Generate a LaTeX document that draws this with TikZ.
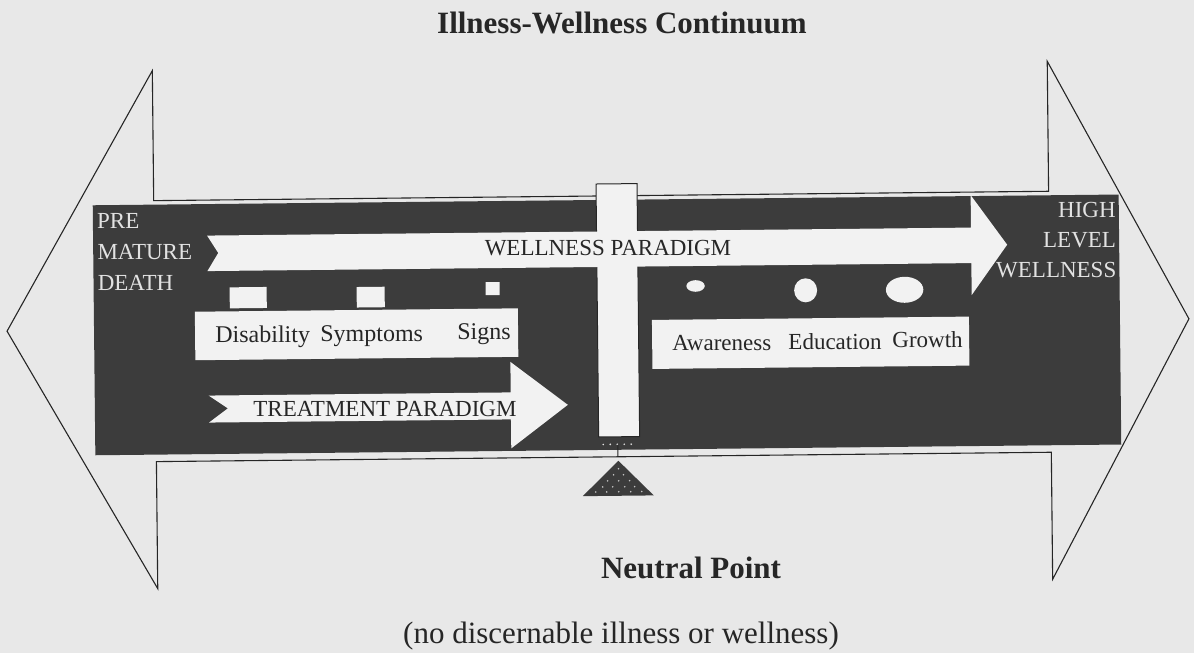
\documentclass[tikz,border=0pt]{standalone}
\usepackage{fontspec}
\setmainfont{Liberation Serif}
\definecolor{bg}{HTML}{E8E8E8}
\definecolor{paper}{HTML}{F2F2F2}
\definecolor{panel}{HTML}{3C3C3C}
\definecolor{ink}{HTML}{262626}
\definecolor{pale}{HTML}{E2E2E2}
\newcommand\myfs[1]{\fontsize{#1}{#1}\selectfont}
\begin{document}
\begin{tikzpicture}[x=1pt,y=-1pt,
  outline/.style={draw=ink, line width=1.1pt, line join=miter},
  whiteshape/.style={fill=paper},
  boxtext/.style={text=ink, inner sep=0pt, font=\myfs{23}},
  darktext/.style={text=pale, inner sep=0pt, font=\myfs{23}},
  titletext/.style={text=ink, inner sep=0pt, font=\bfseries\myfs{31}},
  plaintext/.style={text=ink, inner sep=0pt, font=\myfs{31}},
  dotmark/.style={fill=pale!80!panel, draw=none}]
\fill[bg] (0,0) rectangle (1194,653);
\useasboundingbox (0,0) rectangle (1194,653);
\begin{scope}[rotate around={0.6:(597,326)}]
  % big double arrow outline
  \draw[outline] (7,325) -- (155,66) -- (155,196) -- (1050,196) -- (1050,66)
     -- (1189,325) -- (1050,584) -- (1050,457) -- (155,457) -- (155,584) -- cycle;
  % dark panel
  \fill[panel] (94,200) rectangle (1120,450);
  % vertical beam
  \draw[fill=paper, draw=ink, line width=1pt] (597.5,184) rectangle (638.5,437);
  % wellness paradigm arrow
  \fill[whiteshape] (208,231.5) -- (972,231.5) -- (972,199) -- (1008,249)
     -- (972,299) -- (972,267) -- (208,267) -- (219,249) -- cycle;
  % treatment paradigm arrow
  \fill[whiteshape] (208,391.5) -- (510,391.5) -- (510,361) -- (567,404.5)
     -- (510,447.5) -- (510,418.5) -- (208,418.5) -- (227,404.5) -- cycle;
  % small squares
  \fill[whiteshape] (230,283.5) rectangle (267,304.5);
  \fill[whiteshape] (357,284.5) rectangle (385,305);
  \fill[whiteshape] (486,281) rectangle (500,294);
  % label boxes
  \fill[whiteshape] (195,307.5) rectangle (518,356);
  \fill[whiteshape] (652,320.5) rectangle (969,369.5);
  % ovals
  \fill[whiteshape] (696,287) ellipse [x radius=9.2, y radius=5.8];
  \fill[whiteshape] (806,292.5) ellipse [x radius=11.5, y radius=12];
  \fill[whiteshape] (905,293) ellipse [x radius=18.7, y radius=13];
  % fulcrum: dots, stem, triangle
  \foreach \dx in {602,609,616,623,630}{\fill[pale] (\dx,444.5) circle (0.9);}
  \draw[ink, line width=1pt] (616.5,445) -- (616.5,457);
  \fill[panel] (617,461) -- (652,496) -- (581,496) -- cycle;
  \foreach \px/\py in {617/469, 612/475, 622/475, 606/481, 617/481, 628/481,
                       601/487, 611/487, 623/487, 633/487,
                       594/492, 605/492, 617/492, 629/492, 640/492}
     {\fill[dotmark] (\px,\py) circle (0.9);}
  % texts
  \node[titletext, anchor=base] (title) at (625,33.9) {Illness-Wellness Continuum};
  \node[darktext, anchor=base west] (pre) at (98,223) {PRE};
  \node[darktext, anchor=base west] (mature) at (98,254) {MATURE};
  \node[darktext, anchor=base west] (death) at (98,285) {DEATH};
  \node[darktext, anchor=base east] (high) at (1117,223) {HIGH};
  \node[darktext, anchor=base east] (level) at (1117,253) {LEVEL};
  \node[darktext, anchor=base east] (hwell) at (1117,283) {WELLNESS};
  \node[boxtext, anchor=base] (wpar) at (608.7,256) {WELLNESS PARADIGM};
  \node[boxtext, anchor=base] (tpar) at (384,414.5) {TREATMENT PARADIGM};
  \node[boxtext, font=\myfs{24}, anchor=base west] (dis) at (215,338.5) {Disability};
  \node[boxtext, font=\myfs{24}, anchor=base west] (sym) at (320,338.5) {Symptoms};
  \node[boxtext, font=\myfs{24}, anchor=base west] (sig) at (457,338.5) {Signs};
  \node[boxtext, anchor=base west] (awa) at (672,351) {Awareness};
  \node[boxtext, anchor=base west] (edu) at (788,351) {Education};
  \node[boxtext, anchor=base west] (gro) at (892,351) {Growth};
  \node[titletext, anchor=base] (neutral) at (688.4,579) {Neutral Point};
  \node[plaintext, anchor=base] (nodisc) at (617.7,643.3) {(no discernable illness or wellness)};
\end{scope}
\end{tikzpicture}
\end{document}
